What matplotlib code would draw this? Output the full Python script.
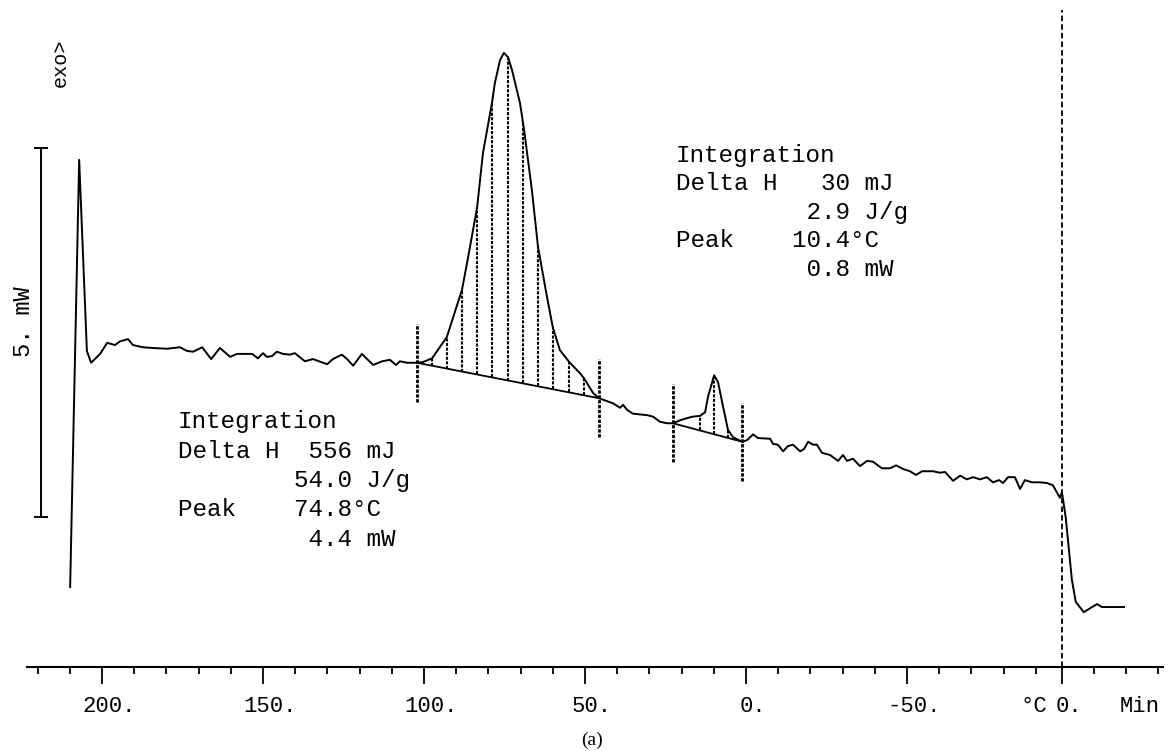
import numpy as np
import matplotlib
matplotlib.use('Agg')
import matplotlib.pyplot as plt
from matplotlib.transforms import offset_copy, blended_transform_factory

plt.rcParams['lines.scale_dashes'] = False

# DSC cooling scan: temperature (C) and heat flow (mW, arbitrary zero)
temp = [209.9, 207.1, 204.7, 203.4, 200.6, 198.4, 196.0, 194.4, 191.9, 190.4,
        187.3, 184.2, 179.8, 175.8, 173.6, 171.7, 168.9, 166.1, 163.4, 160.2,
        158.1, 153.4, 151.6, 150.0, 148.8, 147.2, 145.7, 143.8, 141.6, 140.1,
        137.0, 134.5, 130.1, 128.3, 125.5, 123.9, 122.0, 119.3, 115.8, 113.0,
        110.6, 108.7, 107.5, 105.3, 102.2,
        100.3, 97.5, 92.9, 88.2, 86.3, 83.5, 81.7, 78.9, 78.0, 76.4,
        75.2, 73.9, 72.7, 70.2, 68.9, 66.5, 64.6, 61.8, 60.0, 57.8,
        54.7, 51.6, 50.3, 47.5, 45.7,
        41.3, 39.1, 38.2, 36.9, 35.1, 30.7, 28.9, 26.7, 24.5, 22.7,
        20.5, 18.3, 16.5, 14.3, 12.7, 11.8, 9.9, 8.7, 7.1, 5.6,
        4.0, 1.2,
        -0.3, -2.2, -3.7, -7.5, -8.4, -9.9, -11.5, -13.0, -14.6, -16.8,
        -18.0, -19.3, -20.8, -22.0, -23.6, -26.1, -28.6, -30.1, -31.4, -33.2,
        -35.4, -37.6, -39.4, -42.2, -44.7, -46.6, -48.8, -50.9, -52.8, -54.7,
        -58.1, -60.2, -61.8, -64.3, -66.5, -68.6, -70.5, -72.7, -74.8, -76.7,
        -78.6, -79.8, -81.4, -83.5, -85.1, -86.6, -88.8, -91.3, -93.5, -95.3,
        -96.6, -97.5, -98.1]
heat_flow = [-0.95, 4.84, 2.25, 2.09, 2.21, 2.36, 2.33, 2.38, 2.41, 2.33,
             2.30, 2.29, 2.28, 2.30, 2.25, 2.24, 2.30, 2.14, 2.29, 2.17,
             2.21, 2.21, 2.15, 2.22, 2.17, 2.18, 2.24, 2.21, 2.20, 2.22,
             2.11, 2.14, 2.07, 2.14, 2.20, 2.14, 2.05, 2.21, 2.06, 2.11,
             2.13, 2.06, 2.11, 2.09, 2.09,
             2.10, 2.15, 2.44, 3.08, 3.52, 4.20, 4.93, 5.61, 5.88, 6.19,
             6.29, 6.23, 6.06, 5.61, 5.24, 4.43, 3.66, 2.98, 2.57, 2.26,
             2.09, 1.95, 1.88, 1.68, 1.61,
             1.54, 1.48, 1.52, 1.45, 1.40, 1.38, 1.36, 1.29, 1.27, 1.27,
             1.31, 1.34, 1.36, 1.37, 1.42, 1.63, 1.92, 1.83, 1.49, 1.18,
             1.08, 1.02,
             1.04, 1.12, 1.07, 1.06, 0.99, 0.98, 0.89, 0.96, 0.98, 0.89,
             0.92, 1.02, 0.98, 0.98, 0.87, 0.84, 0.76, 0.84, 0.76, 0.79,
             0.69, 0.76, 0.75, 0.66, 0.66, 0.70, 0.65, 0.62, 0.57, 0.62,
             0.62, 0.60, 0.61, 0.49, 0.56, 0.51, 0.54, 0.51, 0.54, 0.47,
             0.50, 0.46, 0.54, 0.54, 0.38, 0.50, 0.47, 0.47, 0.46, 0.43,
             0.33, 0.26, 0.34]

# isothermal part after the scan (min)
iso_time = [0.0, 0.12, 0.22, 0.31, 0.43, 0.68, 0.90, 1.09, 1.24, 1.93]
iso_flow = [0.34, -0.01, -0.46, -0.85, -1.15, -1.29, -1.23, -1.18, -1.22, -1.22]
t_end = -98.1        # axis position of time 0
deg_per_min = 10.0   # one minute tick = one 10 C tick

# integration limits and baseline values
peak1_limits = [102.2, 45.7]
peak1_base = [2.09, 1.61]
peak2_limits = [22.7, 1.2]
peak2_base = [1.27, 1.02]
peak1_hatch = [97.5, 92.9, 88.2, 83.5, 78.9, 73.9, 69.3, 64.6, 60.0, 55.0, 50.3]
peak2_hatch = [14.3, 9.9, 5.6]

major_ticks = [200, 150, 100, 50, 0, -50]
major_labels = ['200.', '150.', '100.', '50.', '0.', '-50.']
minor_ticks = [t for t in range(220, -91, -10) if t not in major_ticks]
time_minor = [1, 2, 3]

block_low = ['Integration', 'Delta H  556 mJ', '        54.0 J/g',
             'Peak    74.8°C', '         4.4 mW']
block_high = ['Integration', 'Delta H   30 mJ', '         2.9 J/g',
              'Peak    10.4°C', '         0.8 mW']

W, H = 1173, 751
mono = 'Liberation Mono'

fig = plt.figure(figsize=(W / 100, H / 100), dpi=100)
ax = fig.add_axes([27 / W, 84 / H, 1136 / W, 667 / H])
ax.set_xlim(223.3, -129.5)
ax.set_ylim(-2.0325, 7.0054)
for s in ['top', 'left', 'right']:
    ax.spines[s].set_visible(False)
ax.spines['bottom'].set_linewidth(1.5)
ax.set_yticks([])

ax.set_xticks(major_ticks + [t_end])
ax.set_xticklabels([])
ax.set_xticks(minor_ticks + [t_end - deg_per_min * m for m in time_minor], minor=True)
ax.tick_params(which='major', direction='out', length=12, width=1.3)
ax.tick_params(which='minor', direction='out', length=5, width=1.3)

# tick labels: number centred on tick, trailing dot sticks out
cw = 0.6 * 16  # char width in points
base_tr = blended_transform_factory(ax.transData, ax.transAxes)
lab_tr = offset_copy(base_tr, fig=fig, x=0.5 * cw, y=-45 * 0.72, units='points')
for t, lab in zip(major_ticks + [t_end], major_labels + ['0.']):
    ax.text(t, 0, lab, transform=lab_tr, ha='center', va='baseline',
            family=mono, fontsize=16)
fig.text(1020 / W, 1 - 712 / H, '°C', family=mono, fontsize=16, va='baseline')
fig.text(1120 / W, 1 - 712 / H, 'Min', family=mono, fontsize=16, va='baseline')

# curve
x_all = temp + [t_end - deg_per_min * t for t in iso_time]
y_all = heat_flow + iso_flow
ax.plot(x_all, y_all, color='black', lw=1.4)

# start of isothermal segment
ax.axvline(t_end, ymin=0, ymax=(667 - 10) / 667, color='black', lw=1.3,
           linestyle=(0, (4, 2.2)))

# integration baselines, limits and hatching
tr = np.array(temp[::-1])
fr = np.array(heat_flow[::-1])
for lims, base, hatch in [(peak1_limits, peak1_base, peak1_hatch),
                          (peak2_limits, peak2_base, peak2_hatch)]:
    ax.plot(lims, base, color='black', lw=1.3)
    ax.vlines(lims, np.array(base) - 0.53, np.array(base) + 0.53, color='black',
              lw=2.0, linestyles=[(0, (2.4, 1.1))])
    hb = np.interp(hatch, lims[::-1], base[::-1])
    ht = np.interp(hatch, tr, fr)
    ax.vlines(hatch, hb, ht, color='black', lw=1.5, linestyles=[(0, (2.2, 1.1))])

# 5 mW scale bar
bar_tr = blended_transform_factory(ax.transAxes, ax.transData)
ax.plot([14 / 1136, 14 / 1136], [0, 5], transform=bar_tr, color='black', lw=1.4,
        marker='_', markersize=10, mew=1.4, clip_on=False)
fig.text(24 / W, 1 - 322 / H, '5. mW', rotation=90, ha='center', va='center',
         family=mono, fontsize=17)
fig.text(60 / W, 1 - 63 / H, 'exo>', rotation=90, ha='center', va='center',
         family=mono, fontsize=14.5)

# integration results
for i, line in enumerate(block_low):
    fig.text(178 / W, 1 - (428 + 29.5 * i) / H, line, family=mono,
             fontsize=17.5, va='baseline')
for i, line in enumerate(block_high):
    fig.text(676 / W, 1 - (162 + 28.4 * i) / H, line, family=mono,
             fontsize=17.5, va='baseline')

fig.text(592 / W, 1 - 740 / H, '(a)', family='Liberation Serif', fontsize=14,
         ha='center', va='center')

fig.savefig('out.png', dpi=100)
